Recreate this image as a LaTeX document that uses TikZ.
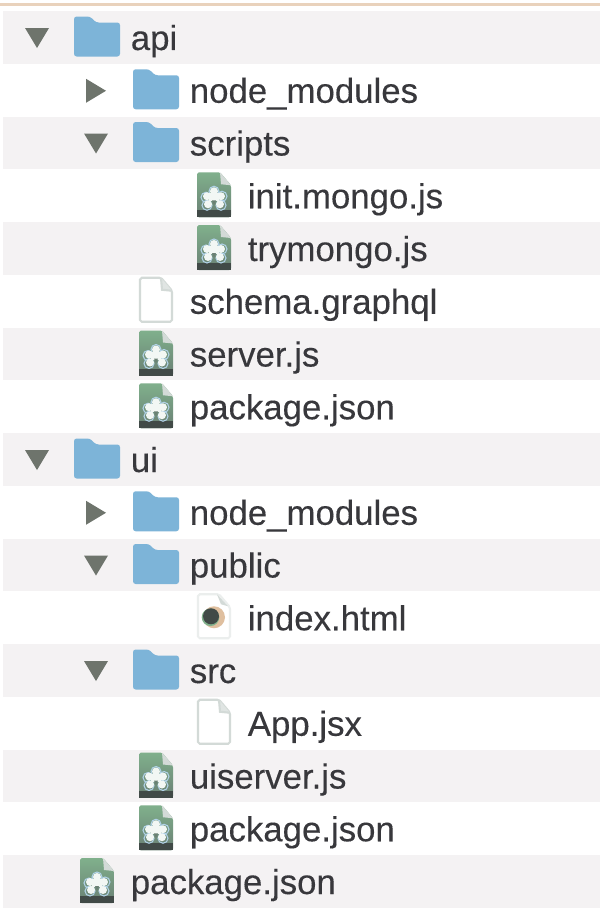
\documentclass[tikz,border=0pt]{standalone}
\usepackage{fontspec}
\setmainfont{Liberation Sans}
\newfontfamily\rowfont{Liberation Sans}[FakeBold=0.2]
\definecolor{stripe}{HTML}{F4F2F3}
\definecolor{foldercol}{HTML}{7DB4D8}
\definecolor{arrowcol}{HTML}{6E746C}
\definecolor{jsgreen}{HTML}{80B08C}
\definecolor{jsgrey}{HTML}{6A8074}
\definecolor{jsdark}{HTML}{414A47}
\definecolor{pagecol}{HTML}{D3DAD7}
\definecolor{labelcol}{HTML}{38383C}
\tikzset{
  rowlabel/.style={anchor=base west, inner sep=0pt, text=labelcol, font=\rowfont\fontsize{19.8pt}{22pt}\selectfont},
  folder/.pic={
    \fill[foldercol, rounded corners=1.5pt] (-23,18.5) -- (-23,-21.5) -- (-7,-21.5) -- (-1,-15.5) -- (23,-15.5) -- (23,18.5) -- cycle;
  },
  page/.pic={
    \draw[pagecol, line width=1.2pt, fill=white, rounded corners=1pt] (-16,20) -- (-16,-24) -- (5,-24) -- (16,-11) -- (16,20) -- cycle;
    \draw[pagecol, line width=1.2pt, fill=pagecol!70] (5,-24) -- (6,-12) -- (16,-11);
  },
  jsfile/.pic={
    \shade[top color=jsgreen, bottom color=jsgrey, rounded corners=1pt] (-17,21) -- (-17,-24) -- (6,-24) -- (17,-11) -- (17,21) -- cycle;
    \fill[jsdark] (-17,14) rectangle (17,21);
    \fill[pagecol] (6,-24) -- (7,-12) -- (17,-11) -- cycle;
    \foreach \px/\py in {-8/1,0/-5,8/0,-7/9,7/9}
      \draw[foldercol!60!white, line width=.6pt] (\px,\py) circle (5);
    \foreach \px/\py in {-7/0,0/-5,7/0,-6/8,6/8}
      \fill[white!90!jsgreen] (\px,\py) circle (4);
    \fill[white!90!jsgreen] (-5,-3) rectangle (5,5);
    \fill[jsgrey] (-2,4) -- (0,9) -- (2,4) -- cycle;
  },
  htmlfile/.pic={
    \draw[pagecol!45, line width=1.2pt, fill=white, rounded corners=1pt] (-16,20) -- (-16,-24) -- (5,-24) -- (16,-11) -- (16,20) -- cycle;
    \fill[pagecol] (3,-24) -- (7,-14) -- (14,-12) -- cycle;
    \fill[brown!50!white] (0,-1) circle (11);
    \fill[jsgreen] (-3.5,-1) circle (8.8);
    \fill[jsdark] (-3,-2) circle (8);
  },
  openarrow/.pic={
    \fill[arrowcol] (-12,-10) -- (12,-10) -- (0,10) -- cycle;
  },
  closedarrow/.pic={
    \fill[arrowcol] (-10,-12) -- (10,0) -- (-10,12) -- cycle;
  },
  noarrow/.pic={}
}
\begin{document}
\begin{tikzpicture}[x=0.02cm,y=-0.02cm]
\useasboundingbox (0,0) rectangle (600,916);
\fill[white] (0,0) rectangle (600,916);
\fill[brown!35!white] (0,3) rectangle (600,6);

% striped rows
\foreach \n in {0,2,...,16}
{
	\fill[stripe] (3,{11+52.75*\n}) rectangle (600,{63.5+52.75*\n});
}

% row number / name / text x / icon / arrow / label
\foreach \n/\name/\tx/\icon/\tri/\txt in {
	0/api/130.5/folder/openarrow/api,
	1/apimodules/189.5/folder/closedarrow/node\_modules,
	2/scripts/189.5/folder/openarrow/scripts,
	3/initmongo/247.5/jsfile/noarrow/init.mongo.js,
	4/trymongo/247.5/jsfile/noarrow/trymongo.js,
	5/schema/189.5/page/noarrow/schema.graphql,
	6/server/189.5/jsfile/noarrow/server.js,
	7/apipackage/189.5/jsfile/noarrow/package.json,
	8/ui/130.5/folder/openarrow/ui,
	9/uimodules/189.5/folder/closedarrow/node\_modules,
	10/public/189.5/folder/openarrow/public,
	11/indexhtml/247.5/htmlfile/noarrow/index.html,
	12/src/189.5/folder/openarrow/src,
	13/appjsx/247.5/page/noarrow/App.jsx,
	14/uiserver/189.5/jsfile/noarrow/uiserver.js,
	15/uipackage/189.5/jsfile/noarrow/package.json,
	16/rootpackage/130.5/jsfile/noarrow/package.json}
{
	\pgfmathsetmacro{\rowy}{38+52.75*\n}
	\pgfmathsetmacro{\iconx}{\tx-33.5}
	\pgfmathsetmacro{\trix}{\tx-93.5}
	\pic at (\trix,\rowy) {\tri};
	\pic at (\iconx,\rowy) {\icon};
	\node[rowlabel] (\name) at (\tx,\rowy+12) {\txt};
}
\end{tikzpicture}
\end{document}
